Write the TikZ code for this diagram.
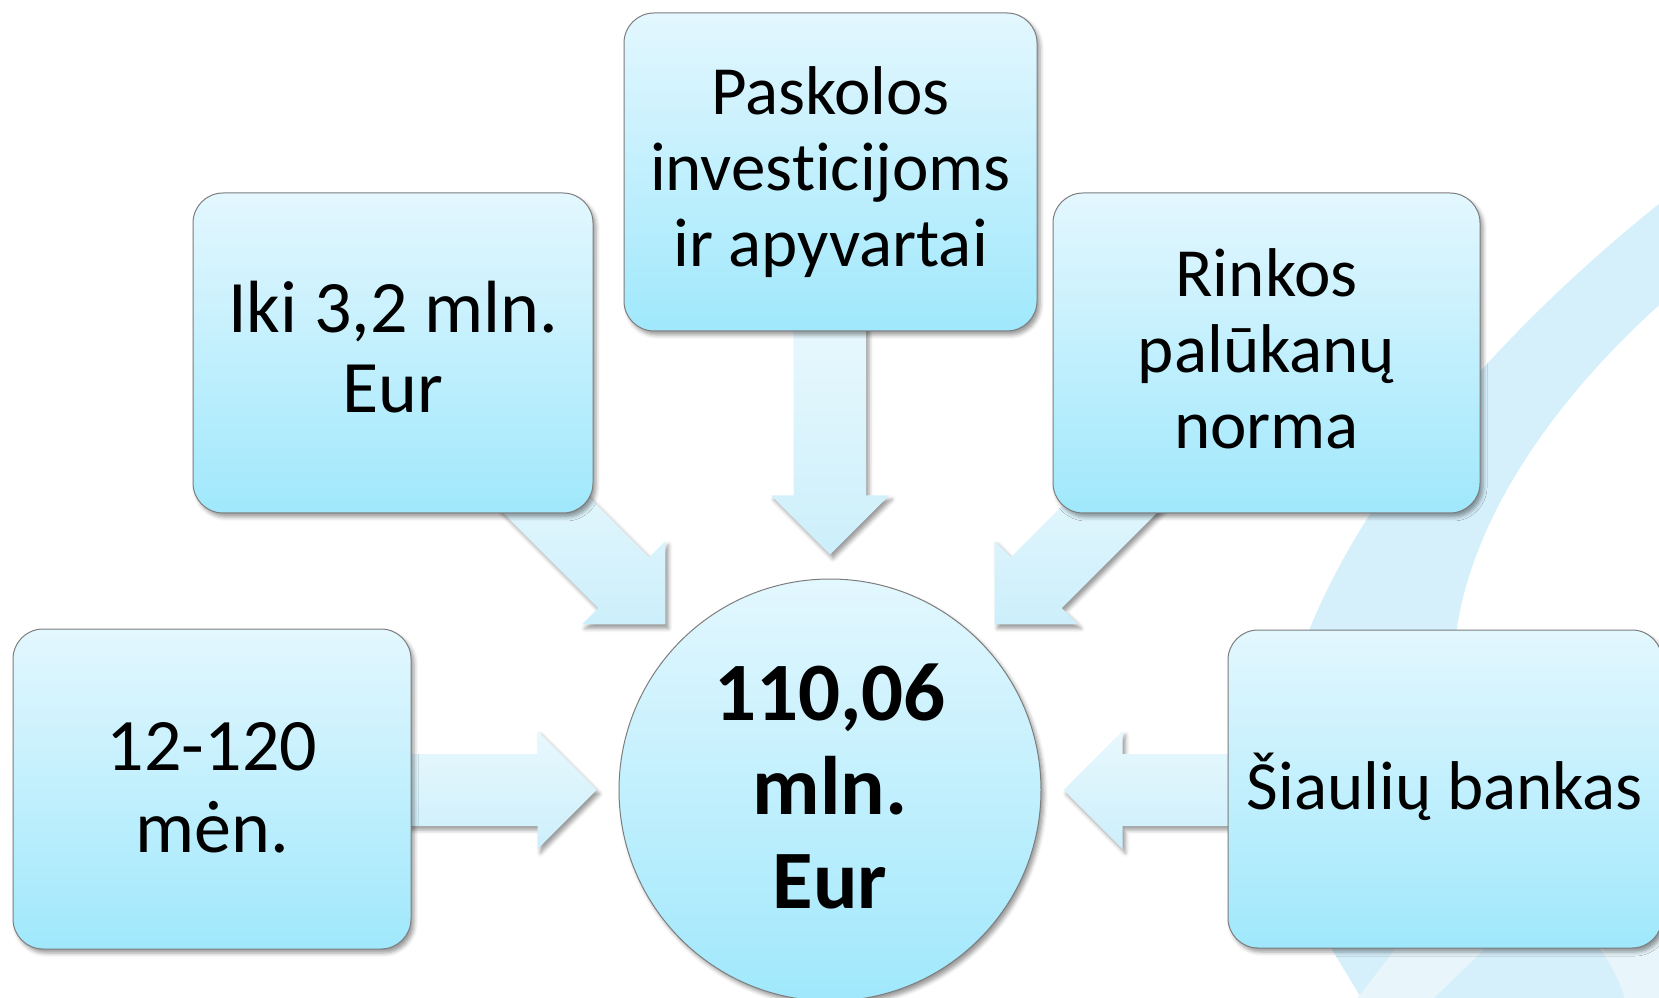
\documentclass[tikz,border=0pt]{standalone}
\usepackage{fontspec}
\setmainfont{Carlito}[Ligatures={NoCommon}]
\usetikzlibrary{calc,shadows.blur}
\definecolor{boxtop}{RGB}{227,247,254}
\definecolor{boxbot}{RGB}{160,232,252}
\definecolor{edgegray}{RGB}{125,125,125}
\definecolor{arrtop}{RGB}{232,248,253}
\definecolor{arrbot}{RGB}{204,239,251}
\definecolor{swoosh}{RGB}{213,239,251}
\definecolor{swooshlight}{RGB}{232,246,252}
\tikzset{
  softshadow/.style={blur shadow={shadow xshift=3pt, shadow yshift=-4pt, shadow blur radius=4pt, shadow opacity=40}},
  boxsty/.style={rectangle, rounded corners=30pt, draw=edgegray, line width=1pt,
    top color=boxtop, bottom color=boxbot, softshadow, inner sep=0pt, text=black,
    font=\fontsize{69}{76}\selectfont},
  circsty/.style={circle, draw=edgegray, line width=1pt, top color=boxtop, bottom color=boxbot,
    softshadow, inner sep=0pt, minimum size=422pt, text=black,
    font=\bfseries\fontsize{83}{94}\selectfont},
  arrsty/.style={top color=arrtop, bottom color=arrbot, softshadow},
  swooshsty/.style={fill=swoosh},
  swooshlightsty/.style={fill=swooshlight},
}
\newcommand\blockarrow[4]{%
  \begin{scope}[shift={(#1)}, x={#2}, y={#3}]
    \path[arrsty] (0,0) -- (-59,59) -- (-59,36) -- (-#4,36) -- (-#4,-36) -- (-59,-36) -- (-59,-59) -- cycle;
  \end{scope}}
\newcommand\lines[1]{\begin{tabular}[t]{@{}c@{}}#1\end{tabular}}
\begin{document}
\begin{tikzpicture}[x=1pt,y=1pt]
  \useasboundingbox (0,0) rectangle (1659,997);
  \clip (0,0) rectangle (1659,997);
  % background swoosh
  \path[swooshlightsty] (1590,97) -- (1680,97) -- (1680,-3) -- (1615,-3) -- cycle;
  \path[swooshsty] (1700,825) .. controls (1450,637) and (1250,377) .. (1280,177)
      .. controls (1295,97) and (1340,37) .. (1362,-3)
      -- (1625,-3) .. controls (1600,87) and (1480,147) .. (1455,297)
      .. controls (1440,437) and (1540,597) .. (1700,727) -- cycle;
  \path[swooshlightsty] (1356,-3) -- (1432,-3) -- (1535,97) -- (1433,97) -- cycle;
  % centre circle
  \node[circsty, text height=0pt, text depth=140pt] (C) at (830,207) {\lines{110,06\\mln.\\Eur}};
  % arrow tips
  \coordinate (tL) at ($(C.west)+(-22,0)$);
  \coordinate (tR) at ($(C.east)+(22,0)$);
  \coordinate (tT) at ($(C.north)+(0,24)$);
  \coordinate (tNW) at ($(C.north west)+(-15,16)$);
  \coordinate (tNE) at ($(C.north east)+(15,16)$);
  \blockarrow{tL}{(1pt,0pt)}{(0pt,1pt)}{197}
  \blockarrow{tR}{(-1pt,0pt)}{(0pt,1pt)}{177}
  \blockarrow{tT}{(0pt,-1pt)}{(1pt,0pt)}{235}
  \blockarrow{tNW}{(0.7071pt,-0.7071pt)}{(0.7071pt,0.7071pt)}{206}
  \blockarrow{tNE}{(-0.7071pt,-0.7071pt)}{(0.7071pt,-0.7071pt)}{206}
  % boxes
  \node[boxsty, minimum width=413pt, minimum height=318pt, text height=0pt, text depth=114pt]
     (B1) at (830.5,825) {\lines{Paskolos\\investicijoms\\ir apyvartai}};
  \node[boxsty, minimum width=400pt, minimum height=320pt, text height=0pt, text depth=40pt,
     font=\fontsize{74}{80}\selectfont]
     (B2) at (393,644) {\lines{Iki 3,2 mln.\\Eur}};
  \node[boxsty, minimum width=427pt, minimum height=320pt, text height=0pt, text depth=112pt]
     (B3) at (1266.5,644) {\lines{Rinkos\\palūkanų\\norma}};
  \node[boxsty, minimum width=398pt, minimum height=320pt, text height=0pt, text depth=38pt,
     font=\fontsize{74}{82}\selectfont]
     (B4) at (212,208) {\lines{12-120\\mėn.}};
  \node[boxsty, minimum width=434pt, minimum height=318pt, text height=40pt, text depth=0pt]
     (B5) at (1445,208) {\lines{Šiaulių bankas}};
\end{tikzpicture}
\end{document}
